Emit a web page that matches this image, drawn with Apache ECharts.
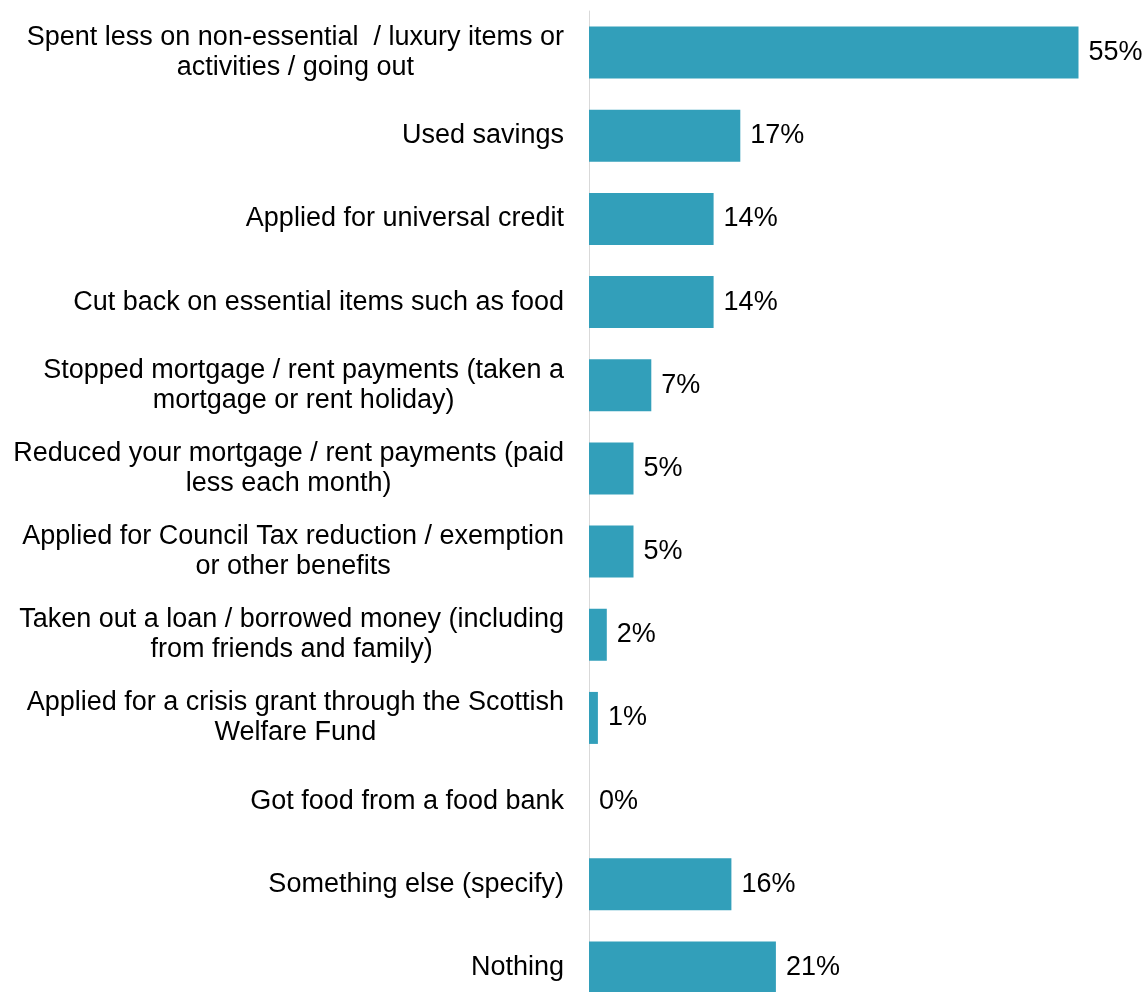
<!DOCTYPE html>
<html>
<head>
<meta charset="utf-8">
<script src="https://cdn.jsdelivr.net/npm/echarts@6/dist/echarts.min.js"></script>
<style>
  html, body { margin: 0; padding: 0; background: #fff; overflow: hidden; }
  /* The last row runs past the bottom edge of the page, so the canvas is a bit taller than the window */
  #chart { width: 1145px; height: 1012px; }
</style>
</head>
<body>
<div id="chart"></div>
<script>
// Actions taken in response to the change in household finances
const categories = [
  'Spent less on non-essential  / luxury items or\nactivities / going out',
  'Used savings',
  'Applied for universal credit',
  'Cut back on essential items such as food',
  'Stopped mortgage / rent payments (taken a\nmortgage or rent holiday)',
  'Reduced your mortgage / rent payments (paid\nless each month)',
  'Applied for Council Tax reduction / exemption\nor other benefits',
  'Taken out a loan / borrowed money (including\nfrom friends and family)',
  'Applied for a crisis grant through the Scottish\nWelfare Fund',
  'Got food from a food bank',
  'Something else (specify)',
  'Nothing'
];
const percentages = [55, 17, 14, 14, 7, 5, 5, 2, 1, 0, 16, 21];

const FONT = 'Liberation Sans, Arial, sans-serif';

const chart = echarts.init(document.getElementById('chart'), null, { renderer: 'canvas' });

chart.setOption({
  animation: false,
  backgroundColor: '#ffffff',
  textStyle: { fontFamily: FONT },
  grid: { left: 589, top: 11, width: 534, height: 998 },
  xAxis: {
    type: 'value',
    min: 0,
    max: 60,
    show: false
  },
  yAxis: {
    type: 'category',
    data: categories,
    inverse: true,
    axisLine: { show: true, lineStyle: { color: '#d9d9d9', width: 1 } },
    axisTick: { show: false },
    axisLabel: {
      margin: 25,
      align: 'right',
      // each wrapped line is centred within the right-aligned label block
      formatter: v => v.split('\n').map(line => '{c|' + line + '}').join('\n'),
      rich: {
        c: {
          align: 'center',
          color: '#000000',
          fontSize: 27,
          lineHeight: 30,
          fontFamily: FONT
        }
      }
    }
  },
  series: [{
    type: 'bar',
    data: percentages,
    barCategoryGap: '37.5%',
    itemStyle: { color: '#329fba' },
    label: {
      show: true,
      position: 'right',
      distance: 10,
      color: '#000000',
      fontSize: 27,
      fontFamily: FONT,
      formatter: p => p.value + '%'
    }
  }]
});
</script>
</body>
</html>
